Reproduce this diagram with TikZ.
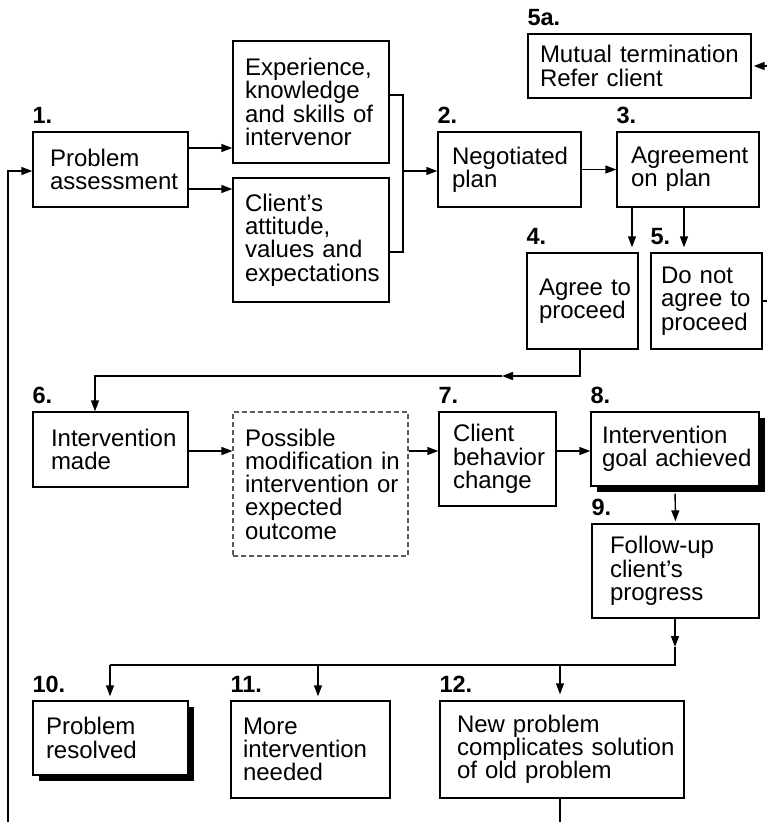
\documentclass[tikz,border=0pt]{standalone}
\usepackage{fontspec}
\setmainfont{Liberation Sans}
\usetikzlibrary{arrows.meta,shadows}

\newcommand\boxfont{\fontsize{24}{23.25}\selectfont\hyphenpenalty=10000\exhyphenpenalty=10000}
\newcommand\numfont{\fontsize{23.5}{23.5}\selectfont\bfseries}

\tikzset{
  box/.style={draw, fill=white, line width=1.4pt, align=left, font=\boxfont, inner ysep=0pt},
  dashbox/.style={box, draw=black!65, line width=1.1pt, dash pattern=on 5pt off 3pt},
  shadowed/.style={drop shadow={shadow xshift=6pt, shadow yshift=-6pt, fill=black, opacity=1}},
  lbl/.style={font=\numfont, anchor=base west, inner sep=0pt},
  ln/.style={line width=1.4pt},
  arr/.style={ln, -{Triangle[length=11pt,width=8pt]}},
}

\begin{document}
\begin{tikzpicture}[x=1pt,y=-1pt]
  \fill[white] (0,0) rectangle (767,822);
  \useasboundingbox (0,0) rectangle (767,822);

  % boxes
  \node[box, text width=121pt, inner xsep=17pt, minimum height=75pt] (b1) at (110.5,169.5) {Problem\\assessment};
  \node[box, text width=132pt, inner xsep=12pt, minimum height=122pt] (bexp) at (311,102) {Experience,\\knowledge\\and~skills~of\\intervenor};
  \node[box, text width=132pt, inner xsep=12pt, minimum height=124pt] (bcl) at (311,240) {Client’s\\attitude,\\values~and\\expectations};
  \node[box, text width=115pt, inner xsep=14pt, minimum height=75pt] (b2) at (509.5,169.5) {Negotiated\\plan};
  \node[box, text width=114pt, inner xsep=14pt, minimum height=75pt] (b3) at (688,169.5) {Agreement\\on~plan};
  \node[box, text width=199pt, inner xsep=12pt, minimum height=64pt] (b5a) at (639.5,66) {Mutual~termination\\Refer~client};
  \node[box, text width=87pt, inner xsep=12pt, minimum height=96pt] (b4) at (582.5,301) {Agree~to\\proceed};
  \node[box, text width=91pt, inner xsep=10pt, minimum height=96pt] (b5) at (706.5,301) {Do~not\\agree~to\\proceed};
  \node[box, text width=119pt, inner xsep=18pt, minimum height=75pt] (b6) at (110.5,449.5) {Intervention\\made};
  \node[dashbox, text width=151pt, inner xsep=12pt, minimum height=144pt] (bd) at (320.5,484) {Possible\\modification~in\\intervention~or\\expected\\outcome};
  \node[box, text width=89pt, inner xsep=14pt, minimum height=94pt] (b7) at (497.5,459) {Client\\behavior\\change};
  \node[box, shadowed, text width=146pt, inner xsep=11pt, minimum height=74pt] (b8) at (675,449) {Intervention\\goal~achieved};
  \node[box, text width=131pt, inner xsep=18pt, minimum height=94pt] (b9) at (675.5,571) {Follow-up\\client’s\\progress};
  \node[box, shadowed, text width=129pt, inner xsep=13pt, minimum height=74pt] (b10) at (110.5,738) {Problem\\resolved};
  \node[box, text width=135pt, inner xsep=12pt, minimum height=97pt] (b11) at (310.5,749.5) {More\\intervention\\needed};
  \node[box, text width=210pt, inner xsep=17pt, minimum height=97pt] (b12) at (562,749.5) {New~problem\\complicates~solution\\of~old~problem};

  % step numbers
  \node[lbl] (l1) at ([yshift=8pt]b1.north west) {1.};
  \node[lbl] (l2) at ([yshift=8pt]b2.north west) {2.};
  \node[lbl] (l3) at ([yshift=8pt]b3.north west) {3.};
  \node[lbl] (l4) at ([yshift=8pt]b4.north west) {4.};
  \node[lbl] (l5) at ([yshift=8pt]b5.north west) {5.};
  \node[lbl] (l5a) at ([yshift=8pt]b5a.north west) {5a.};
  \node[lbl] (l6) at ([yshift=8pt]b6.north west) {6.};
  \node[lbl] (l7) at ([yshift=8pt]b7.north west) {7.};
  \node[lbl] (l8) at ([yshift=8pt]b8.north west) {8.};
  \node[lbl] (l9) at ([yshift=8pt]b9.north west) {9.};
  \node[lbl] (l10) at ([yshift=8pt]b10.north west) {10.};
  \node[lbl] (l11) at ([yshift=8pt]b11.north west) {11.};
  \node[lbl] (l12) at ([yshift=8pt]b12.north west) {12.};

  % routing points
  \coordinate (ya) at (0,148);
  \coordinate (yb) at (0,189);
  \coordinate (brT) at (403,95);
  \coordinate (brB) at (403,252);
  \coordinate (brM) at (403,171);
  \coordinate (xa) at (632,0);
  \coordinate (xb) at (684,0);
  \coordinate (rt) at (772,0);
  \coordinate (m1r) at (580,376);
  \coordinate (m1) at (502,376);
  \coordinate (x95) at (95,0);
  \coordinate (ym) at (0,451);
  \coordinate (m2) at (675,647);
  \coordinate (jn) at (675,665);
  \coordinate (hl) at (110,665);
  \coordinate (x318) at (318,665);
  \coordinate (x560) at (560,665);
  \coordinate (fb) at (8,840);

  % assessment into the two inputs
  \draw[arr] (b1.east |- ya) -- (bexp.west |- ya);
  \draw[arr] (b1.east |- yb) -- (bcl.west |- yb);
  % bracket joining both inputs into the plan
  \draw[ln] (bexp.east |- brT) -- (brT) -- (brB) -- (bcl.east |- brB);
  \draw[arr] (brM) -- (b2.west |- brM);
  \draw[arr] (b2.east) -- (b3.west);
  % agreement outcomes
  \draw[arr, shorten >=5pt] (b3.south -| xa) -- (b4.north -| xa);
  \draw[arr, shorten >=5pt] (b3.south -| xb) -- (b5.north -| xb);
  \draw[arr, shorten >=2pt] (b5.east) -- (b5.east -| rt) |- (b5a.east);
  % proceed to intervention
  \draw[arr] (b4.south -| m1r) -- (m1r) -- (m1);
  \draw[arr] (m1) -| (b6.north -| x95);
  \draw[arr] (b6.east |- ym) -- (bd.west |- ym);
  \draw[arr] (bd.east |- ym) -- (b7.west |- ym);
  \draw[arr] (b7.east |- ym) -- (b8.west |- ym);
  \draw[arr, shorten <=7pt, shorten >=2pt] (b8.south) -- (b9.north);
  % follow-up branches
  \draw[arr] (b9.south -| m2) -- (m2);
  \draw[ln] (m2) -- (jn) -- (hl);
  \draw[arr, shorten >=4pt] (hl) -- (b10.north -| hl);
  \draw[arr, shorten >=4pt] (x318) -- (b11.north -| x318);
  \draw[arr, shorten >=6pt] (x560) -- (b12.north -| x560);
  % loop back to assessment
  \draw[arr] (b12.south -| x560) |- (fb) |- (b1.west |- brM);
\end{tikzpicture}
\end{document}
